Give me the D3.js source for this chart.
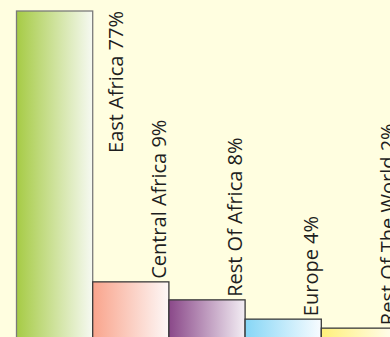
<!DOCTYPE html>
<html><head><meta charset="utf-8">
<script src="https://cdn.jsdelivr.net/npm/d3@7"></script>
<style>html,body{margin:0;padding:0;background:#fffee0;overflow:hidden}svg{display:block}</style>
</head><body>
<svg id="c" width="390" height="337"></svg>
<script>
const categories = ["East Africa", "Central Africa", "Rest Of Africa", "Europe", "Rest Of The World"];
const shares = [77, 9, 8, 4, 2];
const values = [77, 13.8, 9.6, 5.1, 3.0];
const colorsLeft = ["#a6cb45", "#f9a48c", "#8a4889", "#86d6f6", "#fff07a"];
const colorsRight = ["#f6f9f2", "#fdf8f7", "#f3eef4", "#f8fcff", "#fffef4"];
const strokes = ["#7a7a7a", "#3a3a3a", "#3a3a3a", "#3a3a3a", "#3a3a3a"];

const svg = d3.select("#c");
svg.append("rect").attr("width",390).attr("height",337).attr("fill","#fffee0");
const x = d3.scaleBand().domain(categories).range([16.5, 16.5 + 76.2*5]).padding(0);
const y = d3.scaleLinear().domain([0, 77]).range([341, 11]);

const defs = svg.append("defs");
categories.forEach((c,i)=>{
  const g = defs.append("linearGradient").attr("id","g"+i).attr("x1","0%").attr("x2","100%").attr("y1","0%").attr("y2","0%");
  g.append("stop").attr("offset","0%").attr("stop-color",colorsLeft[i]);
  g.append("stop").attr("offset","100%").attr("stop-color",colorsRight[i]);
});

svg.selectAll("rect.bar").data(categories).join("rect").attr("class","bar")
  .attr("x", d=>x(d)).attr("width", x.bandwidth())
  .attr("y", (d,i)=>y(values[i])).attr("height",(d,i)=>y(0)-y(values[i]))
  .attr("fill",(d,i)=>`url(#g${i})`).attr("stroke",(d,i)=>strokes[i]).attr("stroke-width",1.3);

const labels = svg.selectAll("text.lab").data(categories).join("text").attr("class","lab")
  .attr("font-family","'Open Sans', sans-serif").attr("font-size",20).attr("fill","#1e1e1e")
  .text((d,i)=>`${d} ${shares[i]}%`);
labels.each(function(d,i){
  const t = d3.select(this);
  const len = this.getComputedTextLength();
  const top = y(values[i]);
  let bx, by, anchor;
  if (i > 0) { bx = x(d) + x.bandwidth() - 3; by = top - 3; anchor = "start"; }
  else { bx = x(d) + x.bandwidth() + 30; by = top; anchor = "end"; }
  t.attr("text-anchor",anchor).attr("transform",`translate(${bx},${by}) rotate(-90)`);
});
</script>
</body></html>
